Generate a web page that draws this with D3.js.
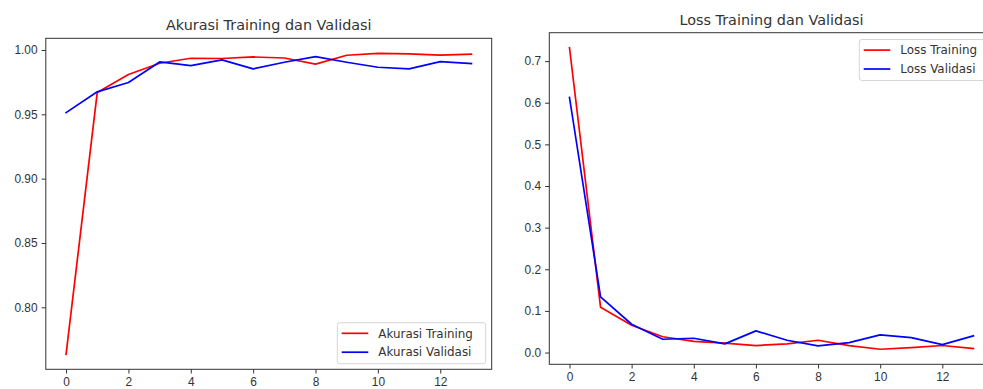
<!DOCTYPE html>
<html>
<head>
<meta charset="utf-8">
<script src="https://cdn.jsdelivr.net/npm/d3@7"></script>
<style>
  html, body { margin: 0; padding: 0; background: #fff; overflow: hidden; }
  svg { display: block; font-family: "DejaVu Sans", sans-serif; }
  .tick text { fill: #333; }
  .domain, .tick line { stroke: #333; }
</style>
</head>
<body>
<div id="chart"></div>
<script>
// epochs
const epochs = d3.range(14);

// accuracy
const accTraining = [0.7635, 0.967, 0.981, 0.9897, 0.9936, 0.9934, 0.9946, 0.9938, 0.989, 0.9959, 0.9974, 0.997, 0.996, 0.9967];
const accValidasi = [0.9513, 0.9675, 0.9747, 0.9907, 0.9879, 0.9923, 0.9853, 0.9905, 0.9948, 0.9905, 0.9866, 0.9853, 0.991, 0.9894];

// loss
const lossTraining = [0.732, 0.1086, 0.0655, 0.038, 0.027, 0.0225, 0.0168, 0.021, 0.0296, 0.0168, 0.008, 0.012, 0.017, 0.0096];
const lossValidasi = [0.6125, 0.134, 0.068, 0.032, 0.0344, 0.0208, 0.052, 0.0296, 0.016, 0.024, 0.0423, 0.036, 0.0192, 0.040];

const xTicks = [0, 2, 4, 6, 8, 10, 12];
const accTicks = [0.80, 0.85, 0.90, 0.95, 1.00];
const lossTicks = [0.0, 0.1, 0.2, 0.3, 0.4, 0.5, 0.6, 0.7];

const width = 983, height = 389;
const fontSize = 11.9;

const svg = d3.select('#chart').append('svg')
  .attr('width', width)
  .attr('height', height);

function drawPanel(opt) {
  const x = d3.scaleLinear()
    .domain([-0.65, 13.65])
    .range([opt.left, opt.right]);

  const all = opt.series.flatMap(s => s.values);
  const ext = d3.extent(all);
  const pad = (ext[1] - ext[0]) * 0.05;
  const y = d3.scaleLinear()
    .domain([ext[0] - pad, ext[1] + pad])
    .range([opt.bottom, opt.top]);

  const g = svg.append('g');

  // x axis
  g.append('g')
    .attr('transform', 'translate(0,' + opt.bottom + ')')
    .call(d3.axisBottom(x).tickValues(xTicks).tickSize(4.2).tickPadding(4).tickSizeOuter(0))
    .call(a => a.select('.domain').remove())
    .selectAll('text').attr('font-size', fontSize);

  // y axis
  g.append('g')
    .attr('transform', 'translate(' + opt.left + ',0)')
    .call(d3.axisLeft(y).tickValues(opt.yTicks).tickFormat(d3.format(opt.fmt)).tickSize(4.2).tickPadding(4).tickSizeOuter(0))
    .call(a => a.select('.domain').remove())
    .selectAll('text').attr('font-size', fontSize);

  // lines
  const line = d3.line()
    .x((d, i) => x(epochs[i]))
    .y(d => y(d));

  opt.series.forEach(s => {
    g.append('path')
      .datum(s.values)
      .attr('fill', 'none')
      .attr('stroke', s.color)
      .attr('stroke-width', 1.7)
      .attr('stroke-linejoin', 'round')
      .attr('stroke-linecap', 'square')
      .attr('d', line);
  });

  // frame
  g.append('rect')
    .attr('x', opt.left)
    .attr('y', opt.top)
    .attr('width', opt.right - opt.left)
    .attr('height', opt.bottom - opt.top)
    .attr('fill', 'none')
    .attr('stroke', '#333')
    .attr('stroke-width', 1);

  // title
  g.append('text')
    .attr('x', (opt.left + opt.right) / 2)
    .attr('y', opt.top - 8)
    .attr('text-anchor', 'middle')
    .attr('font-size', 14.4)
    .attr('fill', '#333')
    .text(opt.title);

  // legend
  const lg = g.append('g').attr('transform', 'translate(' + opt.legend.x + ',' + opt.legend.y + ')');
  lg.append('rect')
    .attr('width', opt.legend.w)
    .attr('height', 41)
    .attr('rx', 2.5)
    .attr('fill', '#fff')
    .attr('fill-opacity', 0.8)
    .attr('stroke', '#d6d6d6')
    .attr('stroke-width', 1);
  opt.series.forEach((s, i) => {
    const yy = 10.6 + i * 18.9;
    lg.append('line')
      .attr('x1', 4.4).attr('x2', 31)
      .attr('y1', yy).attr('y2', yy)
      .attr('stroke', s.color)
      .attr('stroke-width', 1.7);
    lg.append('text')
      .attr('x', 41)
      .attr('y', yy)
      .attr('dy', '0.36em')
      .attr('font-size', fontSize)
      .attr('fill', '#333')
      .text(s.name);
  });
}

drawPanel({
  title: 'Akurasi Training dan Validasi',
  left: 45.8, right: 491.7, top: 38.3, bottom: 369.3,
  yTicks: accTicks, fmt: '.2f',
  series: [
    { name: 'Akurasi Training', values: accTraining, color: '#ff0000' },
    { name: 'Akurasi Validasi', values: accValidasi, color: '#0000ff' }
  ],
  legend: { x: 337.3, y: 322.7, w: 148.4 }
});

drawPanel({
  title: 'Loss Training dan Validasi',
  left: 549.3, right: 993.6, top: 32.7, bottom: 364.3,
  yTicks: lossTicks, fmt: '.1f',
  series: [
    { name: 'Loss Training', values: lossTraining, color: '#ff0000' },
    { name: 'Loss Validasi', values: lossValidasi, color: '#0000ff' }
  ],
  legend: { x: 859.3, y: 39.5, w: 130 }
});
</script>
</body>
</html>
